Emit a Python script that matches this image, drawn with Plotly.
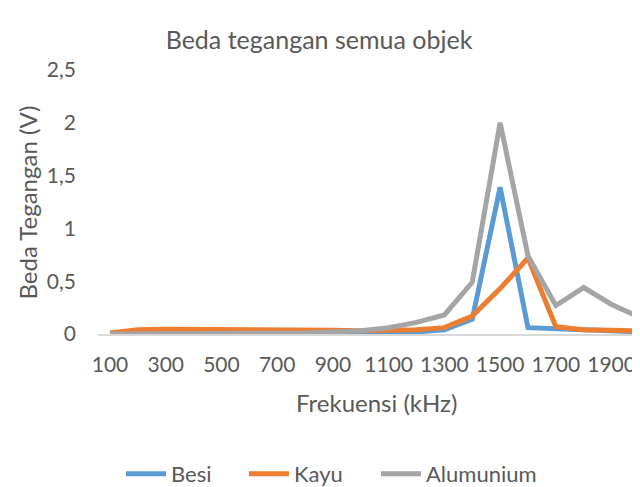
import plotly.graph_objects as go

freq = [100, 200, 300, 400, 500, 600, 700, 800, 900, 1000,
        1100, 1200, 1300, 1400, 1500, 1600, 1700, 1800, 1900, 2000]
besi = [0, 0, 0, 0, 0, 0, 0, 0.005, 0.01, 0.01,
        0.01, 0.02, 0.04, 0.14, 1.39, 0.06, 0.05, 0.03, 0.02, 0.02]
kayu = [0.01, 0.04, 0.045, 0.045, 0.045, 0.045, 0.04, 0.035, 0.035, 0.03,
        0.03, 0.04, 0.06, 0.17, 0.43, 0.72, 0.07, 0.04, 0.035, 0.03]
alumunium = [0, 0, 0, 0, 0, 0, 0.005, 0.01, 0.02, 0.03,
             0.06, 0.11, 0.18, 0.49, 2.0, 0.74, 0.27, 0.44, 0.28, 0.16]
x_ticks = [100, 300, 500, 700, 900, 1100, 1300, 1500, 1700, 1900]
y_ticks = [0, 0.5, 1, 1.5, 2, 2.5]

FONT = "Lato"
TXT = "#595959"

# page has an 8px body margin, so the figure is drawn 8px smaller
W, H = 632, 479
L, T, B = 90, 62, 153

series = [("Besi", besi, "#5B9BD5", "legend", 113),
          ("Kayu", kayu, "#ED7D31", "legend2", 236),
          ("Alumunium", alumunium, "#A5A5A5", "legend3", 368)]

fig = go.Figure()
legends = {}
for name, vals, col, lg, lx in series:
    fig.add_trace(go.Scatter(x=freq, y=vals, name=name, mode="lines",
                             line=dict(color=col, width=5), legend=lg))
    legends[lg] = dict(orientation="h", x=lx / W, xref="container",
                       xanchor="left", y=1 - 466 / H, yref="container",
                       yanchor="middle", itemwidth=40,
                       font=dict(size=22, color=TXT, family=FONT))

fig.update_layout(
    width=W, height=H,
    margin=dict(l=L, r=0, t=T, b=B, autoexpand=False),
    paper_bgcolor="white", plot_bgcolor="white",
    separators=",.",
    font=dict(family=FONT, color=TXT, size=21),
    title=dict(text="Beda tegangan semua objek", x=311 / W, xref="container",
               xanchor="center", y=1 - 32 / H, yref="container", yanchor="middle",
               font=dict(size=25, color=TXT, family=FONT)),
    showlegend=True,
    annotations=[
        dict(text="Frekuensi (kHz)", xref="paper", yref="paper",
             x=(368 - L) / (W - L), y=(326 - 394) / (H - T - B),
             xanchor="center", yanchor="middle", showarrow=False,
             font=dict(size=24, color=TXT, family=FONT)),
        dict(text="Beda Tegangan (V)", xref="paper", yref="paper",
             x=(19 - L) / (W - L), y=(326 - 194.5) / (H - T - B),
             xanchor="center", yanchor="middle", showarrow=False, textangle=-90,
             font=dict(size=24, color=TXT, family=FONT)),
    ],
    **legends,
)
fig.update_xaxes(
    range=[57, 2002], tickvals=x_ticks, ticktext=[str(v) for v in x_ticks],
    showgrid=False, zeroline=False, showline=True, linecolor="#D9D9D9",
    linewidth=1.5, ticks="", ticklabelstandoff=11,
    tickfont=dict(size=21, color=TXT, family=FONT),
)
fig.update_yaxes(
    range=[0, 2.5], tickvals=y_ticks,
    ticktext=["0", "0,5", "1", "1,5", "2", "2,5"],
    showgrid=False, zeroline=False, showline=False, ticks="",
    ticklabelstandoff=21,
    tickfont=dict(size=21, color=TXT, family=FONT),
)

fig.write_html("out.html")
